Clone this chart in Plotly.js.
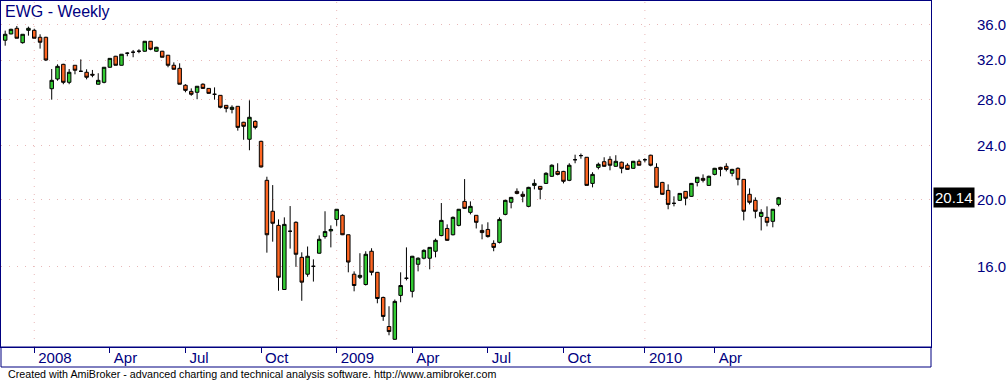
<!DOCTYPE html>
<html>
<head>
<meta charset="utf-8">
<script src="https://cdn.plot.ly/plotly-3.0.1.min.js"></script>
<style>
html,body{margin:0;padding:0;background:#ffffff;overflow:hidden}
#chart{width:1008px;height:380px}
</style>
</head>
<body>
<div id="chart"></div>
<script>
// ---- data (weekly bars, EWG) ----
const firstBarDate = '2007-11-30';
const openPrices = [
34.20,34.93,35.60,33.92,35.36,35.36,34.54,34.54,29.06,30.02,
31.54,29.69,31.44,30.81,30.71,30.50,29.50,29.69,31.23,32.41,
31.44,32.74,32.85,32.96,32.96,34.08,32.96,32.96,32.52,31.44,
31.12,29.40,28.80,28.71,29.50,29.09,28.52,28.42,27.48,27.11,
27.39,25.96,24.52,26.04,24.35,21.36,19.25,18.36,14.80,18.00,
18.55,16.49,15.58,16.00,16.72,17.68,18.02,18.73,18.99,17.79,
15.58,15.42,15.05,16.83,15.68,14.41,13.07,12.52,14.51,15.37,
14.71,16.11,16.44,16.44,16.83,17.74,18.17,17.79,18.36,19.90,
19.18,18.99,18.05,18.11,17.28,17.34,19.05,19.84,20.58,20.38,
19.57,21.00,20.93,21.14,21.65,22.01,22.01,21.36,22.89,23.21,
23.08,21.14,22.31,22.74,22.92,22.39,22.70,22.47,22.24,22.77,
22.89,23.24,22.31,21.21,20.65,19.77,19.97,20.58,20.24,21.21,
21.50,21.00,21.79,22.31,22.39,21.87,22.24,21.43,20.38,19.97,
18.92,18.86,18.61,19.70];
const highPrices = [
35.32,35.55,35.88,34.89,35.80,35.55,34.89,34.60,31.05,31.54,
31.60,31.05,31.44,32.07,31.02,30.95,30.61,31.25,32.20,32.45,
32.65,32.85,33.10,33.18,34.10,34.10,33.45,33.00,32.55,31.75,
31.65,29.50,29.09,29.32,29.59,29.12,29.19,28.45,27.50,27.48,
27.40,26.00,27.95,26.13,24.40,21.62,21.02,18.73,18.86,19.59,
18.61,16.77,17.10,16.38,17.75,19.25,18.36,19.40,19.05,17.80,
15.73,16.72,16.83,17.00,15.70,14.45,13.99,14.31,15.68,17.05,
16.57,16.49,16.94,17.07,17.56,19.79,18.42,18.92,19.40,21.45,
19.90,19.00,18.42,18.55,17.46,18.86,20.00,20.20,20.79,20.58,
20.90,21.43,20.95,21.95,22.54,22.62,22.05,22.62,23.28,23.37,
23.10,21.95,22.67,23.08,23.16,23.24,22.75,22.62,22.80,22.92,
23.00,23.28,22.62,21.25,21.07,20.24,20.47,20.60,21.17,21.60,
21.79,21.70,22.27,22.35,22.62,22.20,22.31,21.45,20.79,20.17,
19.38,19.57,19.40,20.20];
const lowPrices = [
33.58,34.90,34.43,33.81,34.73,34.43,33.25,31.89,28.01,29.85,
29.50,29.50,30.50,30.75,29.99,30.20,29.48,29.59,31.20,31.44,
31.42,32.41,32.30,32.74,32.90,33.07,32.90,32.30,31.23,31.00,
29.50,28.71,28.38,28.05,29.05,28.58,28.01,27.20,26.84,26.75,
25.24,24.48,23.63,25.35,22.30,16.75,17.38,14.74,14.78,16.98,
15.97,14.25,15.45,15.20,16.70,17.56,17.05,18.33,17.77,15.68,
14.71,15.33,15.00,15.52,14.13,13.32,12.69,12.50,14.18,15.26,
14.41,15.73,16.38,15.84,16.49,17.70,17.44,17.75,18.30,19.40,
19.05,18.17,17.52,17.62,16.83,17.28,18.99,19.44,20.38,19.84,
19.51,20.72,20.04,21.10,21.60,21.72,21.14,21.30,22.62,22.97,
21.00,20.86,22.16,22.35,22.09,22.35,21.87,22.12,22.20,22.45,
22.70,22.39,20.84,20.35,19.38,19.57,19.93,19.64,20.20,20.93,
21.21,20.97,21.72,21.65,22.01,21.65,21.00,18.67,19.70,18.80,
18.05,18.30,18.24,19.57];
const closePrices = [
34.89,35.48,34.43,34.89,35.60,34.43,33.97,32.00,29.89,31.33,
29.69,30.71,30.92,30.81,30.20,30.42,29.89,31.23,32.18,31.44,
32.63,32.74,32.85,32.96,34.08,33.18,33.40,32.30,31.44,31.02,
29.50,28.90,28.52,29.30,29.09,28.61,28.52,27.30,27.20,27.30,
25.52,25.61,26.40,25.52,22.34,17.79,18.49,15.42,18.42,18.00,
16.66,15.17,16.55,16.00,17.52,17.98,18.11,19.38,17.79,16.23,
15.00,15.52,16.66,15.68,14.36,13.52,12.85,14.22,15.00,15.37,
16.55,16.44,16.88,17.05,17.46,18.67,17.46,18.86,19.38,19.44,
19.57,18.55,17.92,17.68,17.05,18.73,19.97,20.17,20.44,20.24,
20.86,21.14,20.72,21.87,22.47,21.79,21.29,22.47,22.89,23.21,
21.00,21.79,22.54,22.39,22.47,22.77,22.24,22.16,22.77,22.47,
22.89,22.47,20.86,20.38,19.70,19.77,20.44,20.11,21.14,21.58,
21.36,21.65,22.24,22.16,22.16,22.16,21.43,19.25,19.84,19.25,
19.18,18.55,19.38,20.14];
const tickDates  = ['2008-01-04','2008-04-04','2008-07-04','2008-10-03','2009-01-02','2009-04-03','2009-07-03','2009-10-02','2010-01-08','2010-04-02'];
const tickLabels = ['2008','Apr','Jul','Oct','2009','Apr','Jul','Oct','2010','Apr'];
const priceTicks = [16, 20, 24, 28, 32, 36];

// ---- build ----
const DAY = 86400000;
const startMs = Date.parse(firstBarDate + 'T00:00:00Z');
const fmt = ms => new Date(ms).toISOString().replace('T',' ').slice(0,19);
const barDates = openPrices.map((_, i) => fmt(startMs + i * 7 * DAY).slice(0,10));
const lastClose = closePrices[closePrices.length - 1];

const NAVY = '#000080';
const FONT = 'Liberation Sans, Arial, Helvetica, sans-serif';

const trace = {
  type: 'candlestick',
  x: barDates, open: openPrices, high: highPrices, low: lowPrices, close: closePrices,
  increasing: {line: {color: '#000000', width: 1}, fillcolor: '#33cc33'},
  decreasing: {line: {color: '#000000', width: 1}, fillcolor: '#ff6622'},
  whiskerwidth: 0,
  hoverinfo: 'skip'
};

const yearLines = tickDates.filter((d, i) => /^\d{4}$/.test(tickLabels[i])).map(d => ({
  type: 'line', xref: 'x', yref: 'paper', x0: d, x1: d, y0: 0, y1: 1, layer: 'below',
  line: {color: '#e8b8b8', width: 1, dash: '1px,7px'}
}));

const plotH = 346;
const layout = {
  width: 1008, height: 380,
  margin: {l: 1, r: 77, t: 1, b: 33, pad: 0},
  paper_bgcolor: '#ffffff', plot_bgcolor: '#ffffff',
  showlegend: false,
  boxgap: 0.4, boxgroupgap: 0,
  title: {text: 'EWG - Weekly', xref: 'container', yref: 'container',
          x: 5/1008, xanchor: 'left', y: 1 - 11/380, yanchor: 'middle',
          font: {family: FONT, size: 16, color: NAVY}},
  xaxis: {
    type: 'date',
    range: [fmt(startMs - 0.72 * 7 * DAY), fmt(startMs + 159.2 * 7 * DAY)],
    rangeslider: {visible: false},
    tickmode: 'array', tickvals: tickDates, ticktext: tickLabels,
    ticks: 'outside', ticklen: 5, tickwidth: 1, tickcolor: NAVY,
    ticklabelposition: 'outside right', ticklabelshift: 3, ticklabelstandoff: -3,
    tickfont: {family: FONT, size: 15, color: NAVY},
    showgrid: false, zeroline: false,
    showline: true, linecolor: NAVY, linewidth: 1, mirror: true,
    fixedrange: true
  },
  yaxis: {
    type: 'log', side: 'right',
    range: [Math.log10(12.2), Math.log10(39.02)],
    tickmode: 'array', tickvals: priceTicks, ticktext: priceTicks.map(v => v.toFixed(1)),
    ticks: '', ticklabelstandoff: 42,
    tickfont: {family: FONT, size: 15, color: NAVY},
    showgrid: true, gridcolor: '#e8b8b8', gridwidth: 1, griddash: '1px,7px',
    zeroline: false,
    showline: true, linecolor: NAVY, linewidth: 1, mirror: true,
    fixedrange: true
  },
  shapes: yearLines.concat([
    {type: 'rect', xref: 'paper', yref: 'paper', x0: 0, x1: 1, y0: -20/plotH, y1: 0,
     line: {color: NAVY, width: 1}, fillcolor: 'rgba(0,0,0,0)'}
  ]),
  annotations: [
    {xref: 'paper', x: 1, xanchor: 'left', xshift: 2, yref: 'y', y: Math.log10(lastClose),
     yanchor: 'middle', text: lastClose.toFixed(2), showarrow: false,
     bgcolor: '#000000', borderpad: 1, font: {family: FONT, size: 15, color: '#ffffff'}},
    {xref: 'paper', x: 5/930, xanchor: 'left', yref: 'paper', y: -27/plotH, yanchor: 'middle',
     text: 'Created with AmiBroker - advanced charting and technical analysis software. http://www.amibroker.com',
     showarrow: false, font: {family: FONT, size: 10.7, color: '#000000'}}
  ]
};

Plotly.newPlot('chart', [trace], layout, {displayModeBar: false, staticPlot: true});
</script>
</body>
</html>
